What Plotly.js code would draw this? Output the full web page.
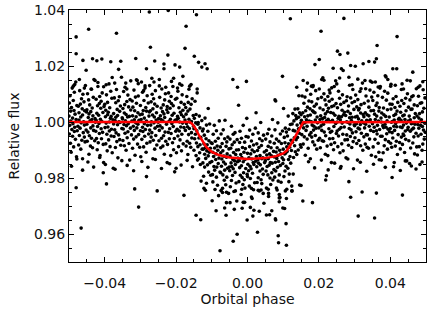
<!DOCTYPE html>
<html><head><meta charset="utf-8">
<script src="https://cdn.plot.ly/plotly-3.0.1.min.js"></script>
<style>html,body{margin:0;padding:0;background:#fff}#chart{width:436px;height:312px}</style>
</head><body><div id="chart"></div>
<script>
// Bulk photometry points (orbital phase, relative flux)
const bulkPhase = [
-0.0500,-0.0499,-0.0499,-0.0498,-0.0497,-0.0496,-0.0495,-0.0495,-0.0494,-0.0493,-0.0492,-0.0491,-0.0490,-0.0490,-0.0489,-0.0488,-0.0487,-0.0486,-0.0485,-0.0485,-0.0484,-0.0483,-0.0482,-0.0481,-0.0480,-0.0479,-0.0478,-0.0477,
-0.0475,-0.0474,-0.0473,-0.0472,-0.0472,-0.0471,-0.0470,-0.0469,-0.0468,-0.0467,-0.0467,-0.0466,-0.0465,-0.0464,-0.0463,-0.0462,-0.0462,-0.0461,-0.0460,-0.0459,-0.0458,-0.0457,-0.0457,-0.0456,-0.0455,-0.0454,-0.0452,-0.0451,
-0.0450,-0.0450,-0.0449,-0.0448,-0.0447,-0.0446,-0.0445,-0.0444,-0.0444,-0.0443,-0.0442,-0.0441,-0.0440,-0.0439,-0.0439,-0.0438,-0.0437,-0.0436,-0.0435,-0.0434,-0.0433,-0.0433,-0.0432,-0.0431,-0.0430,-0.0428,-0.0427,-0.0426,
-0.0425,-0.0424,-0.0424,-0.0423,-0.0422,-0.0421,-0.0420,-0.0420,-0.0419,-0.0418,-0.0417,-0.0416,-0.0415,-0.0415,-0.0414,-0.0413,-0.0412,-0.0411,-0.0410,-0.0410,-0.0409,-0.0408,-0.0407,-0.0406,-0.0405,-0.0404,-0.0403,-0.0402,
-0.0400,-0.0399,-0.0398,-0.0397,-0.0397,-0.0396,-0.0395,-0.0394,-0.0393,-0.0392,-0.0392,-0.0391,-0.0390,-0.0389,-0.0388,-0.0387,-0.0387,-0.0386,-0.0385,-0.0384,-0.0383,-0.0382,-0.0382,-0.0381,-0.0380,-0.0379,-0.0377,-0.0376,
-0.0375,-0.0375,-0.0374,-0.0373,-0.0372,-0.0371,-0.0370,-0.0369,-0.0369,-0.0368,-0.0367,-0.0366,-0.0365,-0.0364,-0.0364,-0.0363,-0.0362,-0.0361,-0.0360,-0.0359,-0.0358,-0.0358,-0.0357,-0.0356,-0.0355,-0.0353,-0.0352,-0.0351,
-0.0350,-0.0349,-0.0349,-0.0348,-0.0347,-0.0346,-0.0345,-0.0345,-0.0344,-0.0343,-0.0342,-0.0341,-0.0340,-0.0340,-0.0339,-0.0338,-0.0337,-0.0336,-0.0335,-0.0335,-0.0334,-0.0333,-0.0332,-0.0331,-0.0330,-0.0329,-0.0328,-0.0327,
-0.0325,-0.0324,-0.0323,-0.0322,-0.0322,-0.0321,-0.0320,-0.0319,-0.0318,-0.0317,-0.0317,-0.0316,-0.0315,-0.0314,-0.0313,-0.0312,-0.0312,-0.0311,-0.0310,-0.0309,-0.0308,-0.0307,-0.0307,-0.0306,-0.0305,-0.0304,-0.0302,-0.0301,
-0.0300,-0.0300,-0.0299,-0.0298,-0.0297,-0.0296,-0.0295,-0.0294,-0.0294,-0.0293,-0.0292,-0.0291,-0.0290,-0.0289,-0.0289,-0.0288,-0.0287,-0.0286,-0.0285,-0.0284,-0.0283,-0.0283,-0.0282,-0.0281,-0.0280,-0.0278,-0.0277,-0.0276,
-0.0275,-0.0274,-0.0274,-0.0273,-0.0272,-0.0271,-0.0270,-0.0270,-0.0269,-0.0268,-0.0267,-0.0266,-0.0265,-0.0265,-0.0264,-0.0263,-0.0262,-0.0261,-0.0260,-0.0260,-0.0259,-0.0258,-0.0257,-0.0256,-0.0255,-0.0254,-0.0253,-0.0252,
-0.0250,-0.0249,-0.0248,-0.0247,-0.0247,-0.0246,-0.0245,-0.0244,-0.0243,-0.0242,-0.0242,-0.0241,-0.0240,-0.0239,-0.0238,-0.0237,-0.0237,-0.0236,-0.0235,-0.0234,-0.0233,-0.0232,-0.0232,-0.0231,-0.0230,-0.0229,-0.0227,-0.0226,
-0.0225,-0.0225,-0.0224,-0.0223,-0.0222,-0.0221,-0.0220,-0.0219,-0.0219,-0.0218,-0.0217,-0.0216,-0.0215,-0.0214,-0.0214,-0.0213,-0.0212,-0.0211,-0.0210,-0.0209,-0.0208,-0.0208,-0.0207,-0.0206,-0.0205,-0.0203,-0.0202,-0.0201,
-0.0200,-0.0199,-0.0199,-0.0198,-0.0197,-0.0196,-0.0195,-0.0195,-0.0194,-0.0193,-0.0192,-0.0191,-0.0190,-0.0190,-0.0189,-0.0188,-0.0187,-0.0186,-0.0185,-0.0185,-0.0184,-0.0183,-0.0182,-0.0181,-0.0180,-0.0179,-0.0178,-0.0177,
-0.0175,-0.0174,-0.0173,-0.0172,-0.0172,-0.0171,-0.0170,-0.0169,-0.0168,-0.0167,-0.0167,-0.0166,-0.0165,-0.0164,-0.0163,-0.0162,-0.0162,-0.0161,-0.0160,-0.0159,-0.0158,-0.0157,-0.0157,-0.0156,-0.0155,-0.0154,-0.0152,-0.0151,
-0.0150,-0.0150,-0.0149,-0.0148,-0.0147,-0.0146,-0.0145,-0.0144,-0.0144,-0.0143,-0.0142,-0.0141,-0.0140,-0.0139,-0.0139,-0.0138,-0.0137,-0.0136,-0.0135,-0.0134,-0.0133,-0.0133,-0.0132,-0.0131,-0.0130,-0.0128,-0.0127,-0.0126,
-0.0125,-0.0124,-0.0124,-0.0123,-0.0122,-0.0121,-0.0120,-0.0120,-0.0119,-0.0118,-0.0117,-0.0116,-0.0115,-0.0115,-0.0114,-0.0113,-0.0112,-0.0111,-0.0110,-0.0110,-0.0109,-0.0108,-0.0107,-0.0106,-0.0105,-0.0104,-0.0103,-0.0102,
-0.0100,-0.0099,-0.0098,-0.0097,-0.0097,-0.0096,-0.0095,-0.0094,-0.0093,-0.0092,-0.0092,-0.0091,-0.0090,-0.0089,-0.0088,-0.0087,-0.0087,-0.0086,-0.0085,-0.0084,-0.0083,-0.0082,-0.0082,-0.0081,-0.0080,-0.0079,-0.0077,-0.0076,
-0.0075,-0.0075,-0.0074,-0.0073,-0.0072,-0.0071,-0.0070,-0.0069,-0.0069,-0.0068,-0.0067,-0.0066,-0.0065,-0.0064,-0.0064,-0.0063,-0.0062,-0.0061,-0.0060,-0.0059,-0.0058,-0.0058,-0.0057,-0.0056,-0.0055,-0.0053,-0.0052,-0.0051,
-0.0050,-0.0049,-0.0049,-0.0048,-0.0047,-0.0046,-0.0045,-0.0045,-0.0044,-0.0043,-0.0042,-0.0041,-0.0040,-0.0040,-0.0039,-0.0038,-0.0037,-0.0036,-0.0035,-0.0035,-0.0034,-0.0033,-0.0032,-0.0031,-0.0030,-0.0029,-0.0028,-0.0027,
-0.0025,-0.0024,-0.0023,-0.0022,-0.0022,-0.0021,-0.0020,-0.0019,-0.0018,-0.0017,-0.0017,-0.0016,-0.0015,-0.0014,-0.0013,-0.0012,-0.0012,-0.0011,-0.0010,-0.0009,-0.0008,-0.0007,-0.0007,-0.0006,-0.0005,-0.0004,-0.0002,-0.0001,
0.0000,0.0000,0.0001,0.0002,0.0003,0.0004,0.0005,0.0006,0.0006,0.0007,0.0008,0.0009,0.0010,0.0011,0.0011,0.0012,0.0013,0.0014,0.0015,0.0016,0.0017,0.0017,0.0018,0.0019,0.0020,0.0022,0.0023,0.0024,
0.0025,0.0026,0.0026,0.0027,0.0028,0.0029,0.0030,0.0030,0.0031,0.0032,0.0033,0.0034,0.0035,0.0035,0.0036,0.0037,0.0038,0.0039,0.0040,0.0040,0.0041,0.0042,0.0043,0.0044,0.0045,0.0046,0.0047,0.0048,
0.0050,0.0051,0.0052,0.0053,0.0053,0.0054,0.0055,0.0056,0.0057,0.0058,0.0058,0.0059,0.0060,0.0061,0.0062,0.0063,0.0063,0.0064,0.0065,0.0066,0.0067,0.0068,0.0068,0.0069,0.0070,0.0071,0.0073,0.0074,
0.0075,0.0075,0.0076,0.0077,0.0078,0.0079,0.0080,0.0081,0.0081,0.0082,0.0083,0.0084,0.0085,0.0086,0.0086,0.0087,0.0088,0.0089,0.0090,0.0091,0.0092,0.0092,0.0093,0.0094,0.0095,0.0097,0.0098,0.0099,
0.0100,0.0101,0.0101,0.0102,0.0103,0.0104,0.0105,0.0105,0.0106,0.0107,0.0108,0.0109,0.0110,0.0110,0.0111,0.0112,0.0113,0.0114,0.0115,0.0115,0.0116,0.0117,0.0118,0.0119,0.0120,0.0121,0.0122,0.0123,
0.0125,0.0126,0.0127,0.0128,0.0128,0.0129,0.0130,0.0131,0.0132,0.0133,0.0133,0.0134,0.0135,0.0136,0.0137,0.0138,0.0138,0.0139,0.0140,0.0141,0.0142,0.0143,0.0143,0.0144,0.0145,0.0146,0.0148,0.0149,
0.0150,0.0150,0.0151,0.0152,0.0153,0.0154,0.0155,0.0156,0.0156,0.0157,0.0158,0.0159,0.0160,0.0161,0.0161,0.0162,0.0163,0.0164,0.0165,0.0166,0.0167,0.0167,0.0168,0.0169,0.0170,0.0172,0.0173,0.0174,
0.0175,0.0176,0.0176,0.0177,0.0178,0.0179,0.0180,0.0180,0.0181,0.0182,0.0183,0.0184,0.0185,0.0185,0.0186,0.0187,0.0188,0.0189,0.0190,0.0190,0.0191,0.0192,0.0193,0.0194,0.0195,0.0196,0.0197,0.0198,
0.0200,0.0201,0.0202,0.0203,0.0203,0.0204,0.0205,0.0206,0.0207,0.0208,0.0208,0.0209,0.0210,0.0211,0.0212,0.0213,0.0213,0.0214,0.0215,0.0216,0.0217,0.0218,0.0218,0.0219,0.0220,0.0221,0.0223,0.0224,
0.0225,0.0225,0.0226,0.0227,0.0228,0.0229,0.0230,0.0231,0.0231,0.0232,0.0233,0.0234,0.0235,0.0236,0.0236,0.0237,0.0238,0.0239,0.0240,0.0241,0.0242,0.0242,0.0243,0.0244,0.0245,0.0247,0.0248,0.0249,
0.0250,0.0251,0.0251,0.0252,0.0253,0.0254,0.0255,0.0255,0.0256,0.0257,0.0258,0.0259,0.0260,0.0260,0.0261,0.0262,0.0263,0.0264,0.0265,0.0265,0.0266,0.0267,0.0268,0.0269,0.0270,0.0271,0.0272,0.0273,
0.0275,0.0276,0.0277,0.0278,0.0278,0.0279,0.0280,0.0281,0.0282,0.0283,0.0283,0.0284,0.0285,0.0286,0.0287,0.0288,0.0288,0.0289,0.0290,0.0291,0.0292,0.0293,0.0293,0.0294,0.0295,0.0296,0.0298,0.0299,
0.0300,0.0300,0.0301,0.0302,0.0303,0.0304,0.0305,0.0306,0.0306,0.0307,0.0308,0.0309,0.0310,0.0311,0.0311,0.0312,0.0313,0.0314,0.0315,0.0316,0.0317,0.0317,0.0318,0.0319,0.0320,0.0322,0.0323,0.0324,
0.0325,0.0326,0.0326,0.0327,0.0328,0.0329,0.0330,0.0330,0.0331,0.0332,0.0333,0.0334,0.0335,0.0335,0.0336,0.0337,0.0338,0.0339,0.0340,0.0340,0.0341,0.0342,0.0343,0.0344,0.0345,0.0346,0.0347,0.0348,
0.0350,0.0351,0.0352,0.0353,0.0353,0.0354,0.0355,0.0356,0.0357,0.0358,0.0358,0.0359,0.0360,0.0361,0.0362,0.0363,0.0363,0.0364,0.0365,0.0366,0.0367,0.0368,0.0368,0.0369,0.0370,0.0371,0.0373,0.0374,
0.0375,0.0375,0.0376,0.0377,0.0378,0.0379,0.0380,0.0381,0.0381,0.0382,0.0383,0.0384,0.0385,0.0386,0.0386,0.0387,0.0388,0.0389,0.0390,0.0391,0.0392,0.0392,0.0393,0.0394,0.0395,0.0397,0.0398,0.0399,
0.0400,0.0401,0.0401,0.0402,0.0403,0.0404,0.0405,0.0405,0.0406,0.0407,0.0408,0.0409,0.0410,0.0410,0.0411,0.0412,0.0413,0.0414,0.0415,0.0415,0.0416,0.0417,0.0418,0.0419,0.0420,0.0421,0.0422,0.0423,
0.0425,0.0426,0.0427,0.0428,0.0428,0.0429,0.0430,0.0431,0.0432,0.0433,0.0433,0.0434,0.0435,0.0436,0.0437,0.0438,0.0438,0.0439,0.0440,0.0441,0.0442,0.0443,0.0443,0.0444,0.0445,0.0446,0.0448,0.0449,
0.0450,0.0450,0.0451,0.0452,0.0453,0.0454,0.0455,0.0456,0.0456,0.0457,0.0458,0.0459,0.0460,0.0461,0.0461,0.0462,0.0463,0.0464,0.0465,0.0466,0.0467,0.0467,0.0468,0.0469,0.0470,0.0472,0.0473,0.0474,
0.0475,0.0476,0.0476,0.0477,0.0478,0.0479,0.0480,0.0480,0.0481,0.0482,0.0483,0.0484,0.0485,0.0485,0.0486,0.0487,0.0488,0.0489,0.0490,0.0490,0.0491,0.0492,0.0493,0.0494,0.0495,0.0496,0.0497,0.0498
];
const bulkFlux = [
1.0021,0.9957,1.0068,0.9988,1.0094,0.9924,1.0003,1.0039,0.9892,1.0052,0.9973,1.0121,0.9949,1.0014,0.9994,1.0077,0.9911,1.0041,0.9966,1.0106,0.9981,1.0028,0.9938,1.0143,1.0009,0.9876,1.0059,0.9969,
0.9985,1.0056,0.9918,1.0033,1.0007,0.9952,1.0112,0.9978,1.0064,0.9903,1.0018,0.9997,1.0083,0.9935,1.0047,0.9869,1.0025,1.0099,0.9962,1.0001,1.0072,0.9946,0.9989,1.0040,0.9929,1.0130,0.9971,1.0036,
1.0044,0.9992,0.9931,1.0101,0.9964,1.0016,1.0079,0.9885,1.0029,0.9951,1.0061,1.0004,0.9914,1.0037,0.9979,1.0118,0.9942,1.0009,1.0050,0.9908,1.0022,0.9986,1.0088,0.9970,1.0152,0.9933,1.0012,0.9999,
0.9967,1.0081,1.0006,0.9941,1.0031,0.9901,1.0058,0.9984,1.0127,0.9926,1.0024,0.9995,1.0066,0.9959,1.0091,0.9880,1.0010,1.0049,0.9976,1.0074,0.9940,1.0002,1.0104,0.9963,1.0034,0.9920,0.9855,1.0055,
1.0063,0.9980,1.0019,0.9922,1.0042,0.9996,1.0097,0.9956,0.9897,1.0026,1.0070,0.9982,1.0035,0.9936,1.0136,1.0000,0.9968,1.0051,0.9912,1.0013,1.0110,0.9950,1.0020,0.9974,1.0085,0.9890,1.0008,0.9835,
0.9993,1.0030,0.9948,1.0086,0.9972,1.0005,0.9909,1.0069,1.0017,0.9961,1.0116,0.9930,1.0045,0.9990,1.0023,0.9872,1.0076,0.9954,1.0001,1.0090,0.9937,1.0038,0.9998,1.0057,0.9917,1.0160,0.9977,1.0015,
1.0011,0.9934,1.0048,0.9975,1.0109,0.9991,1.0032,0.9915,1.0062,0.9960,1.0004,1.0139,0.9899,1.0027,0.9987,1.0073,0.9944,1.0018,1.0096,0.9965,0.9994,1.0054,0.9923,1.0020,0.9864,1.0080,0.9978,1.0043,
0.9954,1.0003,1.0075,0.9906,1.0022,1.0053,0.9985,0.9939,1.0114,1.0008,0.9970,1.0040,0.9881,1.0089,0.9997,1.0019,0.9947,1.0067,0.9979,1.0148,0.9921,1.0033,0.9992,1.0093,0.9955,1.0006,0.9910,1.0026,
0.9969,1.0059,0.9876,1.0009,1.0143,0.9938,1.0028,0.9981,1.0106,0.9966,1.0041,0.9911,1.0077,0.9994,1.0014,0.9949,1.0121,0.9973,1.0052,0.9892,1.0039,1.0003,0.9924,1.0094,0.9988,1.0068,0.9957,1.0021,
1.0036,0.9971,1.0130,0.9929,1.0040,0.9989,0.9946,1.0072,1.0001,0.9962,1.0099,1.0025,0.9869,1.0047,0.9935,1.0083,0.9997,1.0018,0.9903,1.0064,0.9978,1.0112,0.9952,1.0007,1.0033,0.9918,1.0056,0.9985,
0.9999,1.0012,0.9933,1.0152,0.9970,1.0088,0.9986,1.0022,0.9908,1.0050,1.0009,0.9942,1.0118,0.9979,1.0037,0.9914,1.0004,1.0061,0.9951,1.0029,0.9885,1.0079,1.0016,0.9964,1.0101,0.9931,0.9992,1.0044,
1.0055,0.9855,0.9920,1.0034,0.9963,1.0104,1.0002,0.9940,1.0074,0.9976,1.0049,1.0010,0.9880,1.0091,0.9959,1.0066,0.9995,1.0024,0.9926,1.0127,0.9984,1.0058,0.9901,1.0031,0.9941,1.0006,1.0081,0.9967,
0.9835,1.0008,0.9890,1.0085,0.9974,1.0020,0.9950,1.0110,1.0013,0.9912,1.0051,0.9968,1.0000,1.0136,0.9936,1.0035,0.9982,1.0070,1.0026,0.9897,0.9956,1.0097,0.9996,1.0042,0.9922,1.0019,0.9980,1.0063,
1.0007,0.9970,1.0052,0.9914,1.0028,0.9995,1.0091,0.9931,0.9983,1.0039,0.9884,1.0070,0.9955,1.0010,0.9977,1.0128,0.9924,1.0046,0.9999,0.9910,1.0063,0.9962,1.0002,0.9943,1.0083,0.9840,1.0023,0.9985,
0.9976,0.9899,1.0013,0.9940,1.0074,0.9956,0.9997,0.9880,1.0027,0.9925,0.9969,1.0104,0.9864,0.9992,0.9912,0.9998,0.9869,0.9943,1.0021,0.9890,0.9919,0.9979,0.9848,0.9945,0.9789,1.0005,0.9903,0.9968,
0.9854,0.9903,0.9975,0.9806,0.9922,0.9953,0.9885,0.9839,1.0014,0.9908,0.9870,0.9940,0.9781,0.9989,0.9897,0.9919,0.9847,0.9967,0.9879,1.0048,0.9821,0.9933,0.9892,0.9993,0.9855,0.9906,0.9810,0.9926,
0.9859,0.9923,0.9812,0.9892,0.9786,0.9956,0.9877,0.9841,0.9988,0.9828,0.9907,0.9759,0.9931,0.9866,0.9886,0.9803,0.9969,0.9839,0.9914,0.9774,0.9899,0.9852,0.9942,0.9737,0.9871,1.0004,0.9821,0.9911,
0.9890,0.9819,0.9957,0.9842,0.9868,0.9923,0.9763,0.9897,0.9811,0.9972,0.9857,0.9878,0.9792,0.9940,0.9828,1.0006,0.9850,0.9776,0.9913,0.9874,0.9803,0.9929,0.9886,0.9835,0.9946,0.9745,0.9904,0.9839,
0.9826,0.9878,0.9939,0.9769,0.9906,0.9854,0.9791,0.9985,0.9841,0.9919,0.9809,0.9866,0.9956,0.9833,0.9891,0.9752,0.9928,0.9861,0.9820,0.9962,0.9848,0.9884,0.9782,0.9900,0.9718,0.9937,0.9858,0.9871,
0.9901,0.9787,0.9862,0.9927,0.9837,0.9967,0.9810,0.9884,0.9741,0.9942,0.9844,0.9873,0.9802,0.9909,0.9777,0.9988,0.9858,0.9819,0.9892,0.9794,0.9928,0.9866,0.9764,0.9905,0.9834,0.9948,1.0013,0.9813,
0.9805,0.9888,0.9849,0.9946,0.9826,0.9872,0.9771,0.9912,0.9971,0.9842,0.9798,0.9886,0.9833,0.9932,0.9732,0.9868,0.9900,0.9817,0.9956,0.9855,0.9758,0.9918,0.9848,0.9894,0.9783,0.9978,0.9860,1.0033,
0.9877,0.9840,0.9922,0.9784,0.9898,0.9865,0.9961,0.9801,0.9853,0.9909,0.9754,0.9940,0.9825,0.9880,0.9847,0.9998,0.9794,0.9916,0.9869,0.9780,0.9933,0.9832,0.9872,0.9813,0.9953,0.9710,0.9893,0.9855,
0.9862,0.9939,0.9825,0.9898,0.9764,0.9882,0.9841,0.9958,0.9811,0.9913,0.9869,0.9734,0.9974,0.9846,0.9886,0.9800,0.9929,0.9855,0.9777,0.9908,0.9879,0.9819,0.9950,0.9853,1.0009,0.9793,0.9895,0.9830,
0.9924,0.9875,0.9803,0.9972,0.9856,0.9825,0.9893,0.9939,0.9764,0.9870,0.9908,0.9838,0.9997,0.9789,0.9881,0.9859,0.9931,0.9811,0.9899,0.9730,0.9957,0.9845,0.9886,0.9785,0.9923,0.9872,0.9968,0.9852,
0.9903,0.9865,1.0048,0.9805,0.9945,0.9886,0.9926,0.9825,0.9978,0.9889,0.9842,0.9964,0.9760,0.9911,0.9895,0.9950,0.9835,1.0021,0.9866,0.9922,0.9974,0.9814,0.9910,0.9877,0.9991,0.9853,0.9935,0.9898,
0.9993,0.9928,1.0030,0.9814,0.9970,0.9873,1.0004,0.9944,0.9915,1.0046,0.9968,0.9894,1.0023,0.9937,1.0012,0.9884,1.0124,0.9989,0.9945,1.0047,0.9900,1.0017,0.9976,1.0094,0.9960,1.0033,0.9919,0.9996,
1.0026,0.9910,1.0006,0.9955,1.0093,0.9992,1.0033,0.9921,1.0148,0.9979,1.0067,0.9947,1.0019,0.9997,1.0089,0.9881,1.0040,0.9970,1.0008,1.0114,0.9939,0.9985,1.0053,1.0022,0.9906,1.0075,1.0003,0.9954,
1.0047,0.9869,1.0025,1.0099,0.9962,1.0001,1.0072,0.9946,0.9989,1.0040,0.9929,1.0130,0.9971,1.0036,0.9985,1.0056,0.9918,1.0033,1.0007,0.9952,1.0112,0.9978,1.0064,0.9903,1.0018,0.9997,1.0083,0.9935,
0.9979,1.0118,0.9942,1.0009,1.0050,0.9908,1.0022,0.9986,1.0088,0.9970,1.0152,0.9933,1.0012,0.9999,1.0044,0.9992,0.9931,1.0101,0.9964,1.0016,1.0079,0.9885,1.0029,0.9951,1.0061,1.0004,0.9914,1.0037,
1.0091,0.9880,1.0010,1.0049,0.9976,1.0074,0.9940,1.0002,1.0104,0.9963,1.0034,0.9920,0.9855,1.0055,0.9967,1.0081,1.0006,0.9941,1.0031,0.9901,1.0058,0.9984,1.0127,0.9926,1.0024,0.9995,1.0066,0.9959,
1.0136,1.0000,0.9968,1.0051,0.9912,1.0013,1.0110,0.9950,1.0020,0.9974,1.0085,0.9890,1.0008,0.9835,1.0063,0.9980,1.0019,0.9922,1.0042,0.9996,1.0097,0.9956,0.9897,1.0026,1.0070,0.9982,1.0035,0.9936,
1.0023,0.9872,1.0076,0.9954,1.0001,1.0090,0.9937,1.0038,0.9998,1.0057,0.9917,1.0160,0.9977,1.0015,0.9993,1.0030,0.9948,1.0086,0.9972,1.0005,0.9909,1.0069,1.0017,0.9961,1.0116,0.9930,1.0045,0.9990,
0.9987,1.0073,0.9944,1.0018,1.0096,0.9965,0.9994,1.0054,0.9923,1.0020,0.9864,1.0080,0.9978,1.0043,1.0011,0.9934,1.0048,0.9975,1.0109,0.9991,1.0032,0.9915,1.0062,0.9960,1.0004,1.0139,0.9899,1.0027,
0.9997,1.0019,0.9947,1.0067,0.9979,1.0148,0.9921,1.0033,0.9992,1.0093,0.9955,1.0006,0.9910,1.0026,0.9954,1.0003,1.0075,0.9906,1.0022,1.0053,0.9985,0.9939,1.0114,1.0008,0.9970,1.0040,0.9881,1.0089,
0.9994,1.0077,0.9911,1.0041,0.9966,1.0106,0.9981,1.0028,0.9938,1.0143,1.0009,0.9876,1.0059,0.9969,1.0021,0.9957,1.0068,0.9988,1.0094,0.9924,1.0003,1.0039,0.9892,1.0052,0.9973,1.0121,0.9949,1.0014,
0.9864,1.0000,1.0032,0.9949,1.0088,0.9987,0.9890,1.0050,0.9980,1.0026,0.9915,1.0110,0.9992,1.0165,0.9937,1.0020,0.9981,1.0078,0.9958,1.0004,0.9903,1.0044,1.0103,0.9974,0.9930,1.0018,0.9965,1.0064,
0.9977,1.0128,0.9924,1.0046,0.9999,0.9910,1.0063,0.9962,1.0002,0.9943,1.0083,0.9840,1.0023,0.9985,1.0007,0.9970,1.0052,0.9914,1.0028,0.9995,1.0091,0.9931,0.9983,1.0039,0.9884,1.0070,0.9955,1.0010,
1.0013,0.9927,1.0056,0.9982,0.9904,1.0035,1.0006,0.9946,1.0077,0.9980,1.0136,0.9920,1.0022,0.9957,0.9989,1.0066,0.9952,1.0025,0.9891,1.0009,0.9968,1.0085,0.9938,1.0040,0.9996,0.9861,1.0101,0.9973,
1.0003,0.9981,1.0053,0.9933,1.0021,0.9852,1.0079,0.9967,1.0008,0.9907,1.0045,0.9994,1.0090,0.9974,1.0046,0.9997,0.9925,1.0094,0.9978,0.9947,1.0015,1.0061,0.9886,0.9992,1.0030,0.9960,1.0119,0.9911,
1.0021,0.9882,1.0058,0.9991,0.9950,1.0092,0.9978,1.0014,0.9912,1.0030,0.9848,1.0067,0.9988,1.0001,0.9956,1.0008,1.0069,0.9899,1.0036,0.9984,0.9921,1.0115,0.9971,1.0049,0.9939,0.9996,1.0086,0.9963
];
// Upper scattered points
const highPhase = [-0.0480,-0.0445,-0.0480,-0.0461,-0.0434,-0.0422,-0.0408,-0.0367,-0.0383,-0.0355,-0.0313,-0.0275,-0.0222,-0.0272,-0.0260,-0.0234,-0.0223,-0.0172,-0.0143,-0.0175,-0.0149,-0.0137,-0.0119,-0.0203,-0.0190,-0.0128,-0.0283,-0.0234,-0.0113,0.0120,0.0206,0.0270,0.0419,0.0363,0.0252,0.0259,0.0281,0.0201,0.0189,0.0240,0.0263,0.0289,0.0302,0.0324,0.0340,0.0356,0.0361,0.0407,0.0418,0.0098,-0.0041,-0.0003,-0.0028,-0.0025,0.0077,0.0079];
const highFlux = [1.0304,1.0331,1.0244,1.0220,1.0226,1.0219,1.0225,1.0317,1.0215,1.0217,1.0227,1.0393,1.0398,1.0267,1.0218,1.0207,1.0239,1.0342,1.0383,1.0263,1.0235,1.0213,1.0208,1.0204,1.0196,1.0196,1.0190,1.0190,1.0190,1.0369,1.0324,1.0370,1.0305,1.0273,1.0253,1.0241,1.0246,1.0223,1.0205,1.0192,1.0190,1.0202,1.0199,1.0208,1.0216,1.0214,1.0226,1.0190,1.0190,1.0163,1.0152,1.0145,1.0124,1.0060,1.0079,1.0075];
// Out-of-transit wing points (upper and lower fringes of the band)
const wingPhase = [-0.0488,-0.0471,-0.0452,-0.0437,-0.0419,-0.0396,-0.0379,-0.0361,-0.0343,-0.0327,-0.0306,-0.0291,-0.0268,-0.0247,-0.0213,-0.0196,-0.0181,-0.0158,-0.0141,
0.0168,0.0183,0.0211,0.0229,0.0247,0.0268,0.0286,0.0309,0.0331,0.0349,0.0372,0.0388,0.0402,0.0431,0.0447,0.0463,0.0478,0.0491,
-0.0484,-0.0457,-0.0427,-0.0403,-0.0372,-0.0338,-0.0311,-0.0287,-0.0262,-0.0229,-0.0207,-0.0184,-0.0164,
0.0179,0.0214,0.0236,0.0258,0.0293,0.0318,0.0344,0.0366,0.0393,0.0414,0.0437,0.0456,0.0483,
-0.0493,-0.0478,-0.0462,-0.0447,-0.0431,-0.0414,-0.0398,-0.0371,-0.0352,-0.0337,-0.0319,-0.0296,-0.0279,-0.0258,-0.0241,-0.0218,-0.0204,-0.0186,-0.0169,
0.0171,0.0188,0.0207,0.0226,0.0244,0.0262,0.0281,0.0297,0.0316,0.0334,0.0353,0.0369,0.0386,0.0411,0.0428,0.0442,0.0459,0.0472,0.0489];
const wingFlux = [1.0128,1.0152,1.0185,1.0117,1.0141,1.0133,1.0159,1.0188,1.0124,1.0147,1.0137,1.0112,1.0156,1.0129,1.0145,1.0121,1.0163,1.0134,1.0118,
1.0139,1.0126,1.0158,1.0114,1.0147,1.0184,1.0131,1.0153,1.0119,1.0142,1.0127,1.0161,1.0135,1.0116,1.0149,1.0178,1.0124,1.0144,
1.0134,1.0121,1.0148,1.0126,1.0139,1.0118,1.0151,1.0129,1.0143,1.0124,1.0156,1.0131,1.0117,
1.0128,1.0149,1.0122,1.0157,1.0133,1.0119,1.0146,1.0125,1.0152,1.0131,1.0118,1.0147,1.0129,
0.9842,0.9868,0.9828,0.9857,0.9839,0.9873,0.9848,0.9831,0.9862,0.9845,0.9826,0.9859,0.9838,0.9866,0.9834,0.9851,0.9822,0.9846,0.9863,
0.9858,0.9836,0.9864,0.9829,0.9853,0.9841,0.9868,0.9833,0.9856,0.9824,0.9849,0.9865,0.9838,0.9855,0.9827,0.9861,0.9843,0.9832,0.9857];
// Lower scattered points
const lowPhase = [-0.0480,-0.0466,-0.0316,-0.0305,-0.0253,-0.0178,-0.0144,-0.0131,-0.0099,-0.0088,-0.0077,-0.0060,-0.0064,-0.0059,-0.0049,-0.0037,-0.0040,-0.0029,-0.0001,-0.0015,-0.0012,-0.0008,0.0008,0.0013,0.0015,0.0018,0.0028,0.0033,0.0053,0.0062,0.0068,0.0078,0.0079,0.0086,0.0087,0.0109,0.0108,0.0099,0.0104,0.0089,0.0109,0.0155,0.0182,0.0289,0.0310,0.0321,0.0356,0.0361,0.0434,
-0.0395,-0.0283,-0.0404,0.0284,0.0405,0.0219,0.0221,0.0124,0.0124,0.0146,0.0116,
-0.0122,-0.0118,-0.0074,-0.0070,-0.0059,-0.0034,-0.0016,0.0011,0.0030,0.0038,0.0044,0.0058,0.0059,0.0083,0.0089,0.0106,0.0125,0.0089,0.0150];
const lowFlux = [0.9765,0.9621,0.9761,0.9696,0.9754,0.9738,0.9667,0.9651,0.9719,0.9683,0.9540,0.9667,0.9693,0.9712,0.9712,0.9688,0.9574,0.9599,0.9650,0.9692,0.9713,0.9713,0.9695,0.9727,0.9664,0.9685,0.9606,0.9681,0.9668,0.9669,0.9683,0.9654,0.9650,0.9594,0.9569,0.9560,0.9637,0.9693,0.9691,0.9715,0.9727,0.9718,0.9712,0.9731,0.9664,0.9750,0.9657,0.9746,0.9739,
0.9779,0.9805,0.9819,0.9787,0.9802,0.9793,0.9808,0.9754,0.9771,0.9775,0.9787,
0.9763,0.9756,0.9755,0.9748,0.9749,0.9754,0.9760,0.9763,0.9756,0.9757,0.9745,0.9760,0.9745,0.9757,0.9741,0.9754,0.9754,0.9729,0.9773];
// Transit model curve (red)
const modelPhase = [-0.05,-0.0162,-0.0155,-0.0145,-0.0135,-0.0125,-0.0115,-0.0100,-0.0080,-0.0050,0.0000,0.0050,0.0080,0.0100,0.0110,0.0120,0.0130,0.0140,0.0150,0.0156,0.05];
const modelFlux = [1.0,1.0,0.9993,0.9975,0.9950,0.9928,0.9910,0.9893,0.9882,0.9873,0.9868,0.9871,0.9878,0.9888,0.9898,0.9917,0.9940,0.9962,0.9985,0.9999,1.0];

const pts = {
  x: bulkPhase.concat(highPhase, wingPhase, lowPhase),
  y: bulkFlux.concat(highFlux, wingFlux, lowFlux),
  type: 'scatter', mode: 'markers',
  marker: {color: '#000', size: 3.6, line: {width: 0}},
  hoverinfo: 'skip'
};
const model = {
  x: modelPhase, y: modelFlux, type: 'scatter', mode: 'lines',
  line: {color: '#ff0000', width: 2.5}, hoverinfo: 'skip'
};
const fontFam = 'DejaVu Sans, sans-serif';
const axisBase = {
  showgrid: false, zeroline: false, showline: true, linecolor: '#000', linewidth: 1,
  mirror: 'ticks', ticks: 'inside', ticklen: 5, tickwidth: 1, tickcolor: '#000',
  tickfont: {family: fontFam, size: 14, color: '#111'},
  tickformat: '.2f', dtick: 0.02,
  minor: {dtick: 0.005, ticks: 'inside', ticklen: 3, tickcolor: '#000', tickwidth: 1, showgrid: false}
};
const layout = {
  width: 436, height: 312,
  margin: {l: 69, r: 10, t: 10, b: 50},
  paper_bgcolor: '#fff', plot_bgcolor: '#fff',
  showlegend: false,
  xaxis: Object.assign({}, axisBase, {
    range: [-0.05, 0.05], tick0: 0, ticklabelstandoff: 8,
    title: {text: 'Orbital phase', font: {family: fontFam, size: 14, color: '#111'}, standoff: 1}
  }),
  yaxis: Object.assign({}, axisBase, {
    range: [0.95, 1.04], tick0: 0,
    title: {text: 'Relative flux', font: {family: fontFam, size: 14, color: '#111'}, standoff: 11}
  })
};
Plotly.newPlot('chart', [pts, model], layout, {staticPlot: true, displayModeBar: false});
</script>
</body></html>
